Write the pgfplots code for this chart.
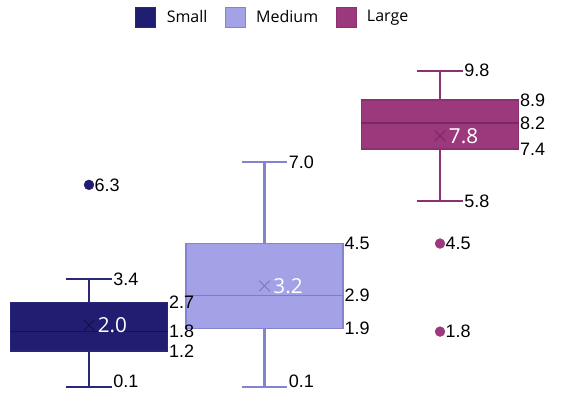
\documentclass[border=0pt]{standalone}
\usepackage{pgfplots}
\pgfplotsset{compat=1.18}
\usepgfplotslibrary{statistics}
\usepackage{fontspec}
\setmainfont{Liberation Sans}
\newfontfamily\osans{Open Sans}
\definecolor{sfill}{HTML}{211D70}
\definecolor{sline}{HTML}{2A2678}
\definecolor{smed}{HTML}{15124C}
\definecolor{mfill}{HTML}{A4A2E6}
\definecolor{mline}{HTML}{8582CE}
\definecolor{mmed}{HTML}{7F7CC4}
\definecolor{lfill}{HTML}{9C397C}
\definecolor{lline}{HTML}{8C316F}
\definecolor{lmed}{HTML}{7A2860}
\begin{document}
\begin{tikzpicture}
\begin{axis}[
  name=ax,
  scale only axis, width=421.5pt, height=294.75pt,
  xmin=-0.507, xmax=2.695, ymin=-0.084, ymax=11.97,
  hide axis, clip=false,
  legend style={at={(0.486,0.99)}, anchor=north, draw=none, fill=none,
    legend columns=3, font=\osans\fontsize{12}{14}\selectfont,
    /tikz/every odd column/.append style={column sep=6pt},
    /tikz/every even column/.append style={column sep=11pt},
    legend cell align=left},
  legend image code/.code={\draw[#1, line width=0.6pt] (0pt,-7.5pt) rectangle (15pt,7.5pt);},
  boxplot/draw direction=y,
  boxplot/box extend=0.895,
  boxplot/whisker extend=0.26,
]
% legend entries
\addlegendimage{fill=sfill, draw=sline}
\addlegendentry{Small}
\addlegendimage{fill=mfill, draw=mline}
\addlegendentry{Medium}
\addlegendimage{fill=lfill, draw=lline}
\addlegendentry{Large}

% Small
\addplot[forget plot, draw=sline, fill=sfill, line width=1.1pt, mark=*, mark size=3.7pt,
  mark options={fill=sfill, draw=sfill, line width=0.3pt},
  boxplot/every median/.style={draw=smed, line width=1.1pt},
  boxplot/every whisker/.style={line width=1.5pt},
  boxplot prepared={draw position=0, lower whisker=0.1, lower quartile=1.2,
    median=1.8, upper quartile=2.7, upper whisker=3.4}]
  coordinates {(0,6.3)};
% Medium
\addplot[forget plot, draw=mline, fill=mfill, line width=1.2pt, mark=*, mark size=3.7pt,
  boxplot/every median/.style={draw=mmed, line width=1.1pt},
  boxplot/every whisker/.style={line width=1.6pt},
  boxplot prepared={draw position=1, lower whisker=0.1, lower quartile=1.9,
    median=2.9, upper quartile=4.5, upper whisker=7.0}]
  coordinates {};
% Large
\addplot[forget plot, draw=lline, fill=lfill, line width=1.1pt, mark=*, mark size=3.7pt,
  mark options={fill=lfill, draw=lfill, line width=0.3pt},
  boxplot/every median/.style={draw=lmed, line width=1.1pt},
  boxplot/every whisker/.style={line width=1.5pt},
  boxplot prepared={draw position=2, lower whisker=5.8, lower quartile=7.4,
    median=8.2, upper quartile=8.9, upper whisker=9.8}]
  coordinates {(2,4.5) (2,1.8)};

% means
\addplot[forget plot, only marks, mark=x, mark size=5.6pt, line width=0.8pt, draw=smed] coordinates {(0,2.0)};
\addplot[forget plot, only marks, mark=x, mark size=5.6pt, line width=0.8pt, draw=mmed] coordinates {(1,3.2)};
\addplot[forget plot, only marks, mark=x, mark size=5.6pt, line width=0.8pt, draw=lmed] coordinates {(2,7.8)};

% mean labels
\addplot[forget plot, only marks, mark=none, nodes near coords, point meta=explicit symbolic,
  nodes near coords style={anchor=west, xshift=5.5pt, inner sep=1pt, text=white,
    font=\osans\fontsize{15.5}{17}\selectfont}]
  coordinates {(0,2.0)[2.0] (1,3.2)[3.2] (2,7.8)[7.8]};

% whisker labels
\addplot[forget plot, only marks, mark=none, nodes near coords, point meta=explicit symbolic,
  nodes near coords style={anchor=west, inner sep=1pt, text=black,
    font=\fontsize{13.5}{15}\selectfont}]
  coordinates {(0.13,3.4)[3.4] (1.13,7.0)[7.0]
    (2.13,9.8)[9.8] (2.13,5.8)[5.8]};
\addplot[forget plot, only marks, mark=none, nodes near coords, point meta=explicit symbolic,
  nodes near coords style={anchor=west, inner sep=1pt, yshift=4pt, text=black,
    font=\fontsize{13.5}{15}\selectfont}]
  coordinates {(0.13,0.1)[0.1] (1.13,0.1)[0.1]};
% quartile / median labels
\addplot[forget plot, only marks, mark=none, nodes near coords, point meta=explicit symbolic,
  nodes near coords style={anchor=west, inner sep=1pt, text=black,
    font=\fontsize{13.5}{15}\selectfont}]
  coordinates {(0.4475,2.7)[2.7] (0.4475,1.8)[1.8] (0.4475,1.2)[1.2]
    (1.4475,4.5)[4.5] (1.4475,2.9)[2.9] (1.4475,1.9)[1.9]
    (2.4475,8.9)[8.9] (2.4475,8.2)[8.2] (2.4475,7.4)[7.4]};
% outlier labels
\addplot[forget plot, only marks, mark=none, nodes near coords, point meta=explicit symbolic,
  nodes near coords style={anchor=west, xshift=3pt, inner sep=1pt, text=black,
    font=\fontsize{13.5}{15}\selectfont}]
  coordinates {(0,6.3)[6.3] (2,4.5)[4.5] (2,1.8)[1.8]};
\end{axis}
\pgfresetboundingbox
\path[use as bounding box] (ax.south west) rectangle (ax.north east);
\end{tikzpicture}
\end{document}
